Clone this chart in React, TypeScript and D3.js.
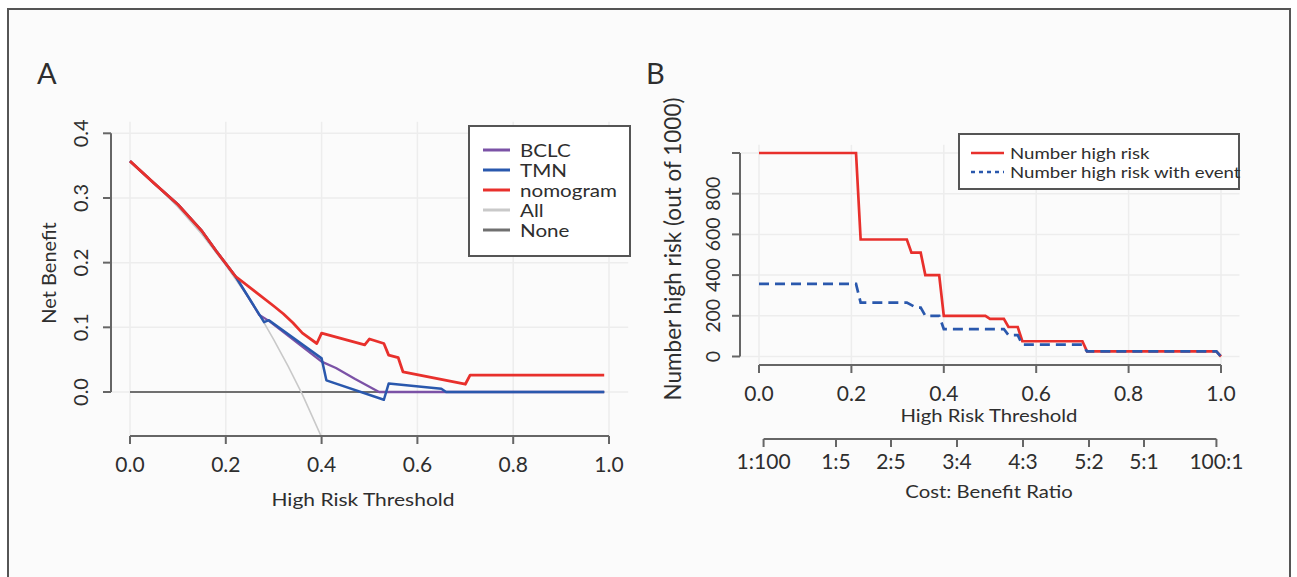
import React, { useEffect, useRef } from 'react';
import * as d3 from 'd3';

// ---- Panel A: decision curves (net benefit) ----
const thresholdTicks = [0, 0.2, 0.4, 0.6, 0.8, 1.0];
const thresholdLabels = ['0.0', '0.2', '0.4', '0.6', '0.8', '1.0'];
const netBenefitTicks = [0, 0.1, 0.2, 0.3, 0.4];
const netBenefitLabels = ['0.0', '0.1', '0.2', '0.3', '0.4'];

const bclcX = [0, 0.05, 0.1, 0.15, 0.18, 0.22, 0.27, 0.29, 0.4, 0.43, 0.47, 0.52, 0.99];
const bclcY = [0.357, 0.323, 0.29, 0.249, 0.218, 0.179, 0.119, 0.11, 0.047, 0.037, 0.02, 0, 0];

const tmnX = [0, 0.05, 0.1, 0.15, 0.18, 0.22, 0.28, 0.29, 0.4, 0.41, 0.53, 0.54, 0.65, 0.66, 0.99];
const tmnY = [0.357, 0.323, 0.29, 0.249, 0.218, 0.179, 0.108, 0.111, 0.052, 0.018, -0.012, 0.013, 0.005, 0, 0];

const nomogramX = [0, 0.05, 0.1, 0.15, 0.18, 0.22, 0.26, 0.3, 0.32, 0.34, 0.36, 0.39, 0.4, 0.49, 0.5, 0.53, 0.54, 0.56, 0.57, 0.7, 0.71, 0.99];
const nomogramY = [0.357, 0.323, 0.29, 0.249, 0.218, 0.179, 0.156, 0.133, 0.121, 0.107, 0.091, 0.075, 0.091, 0.073, 0.082, 0.075, 0.057, 0.053, 0.031, 0.012, 0.026, 0.026];

const allX = [0, 0.05, 0.1, 0.15, 0.2, 0.25, 0.28, 0.3, 0.33, 0.36, 0.4];
const allY = [0.357, 0.323, 0.286, 0.244, 0.196, 0.143, 0.107, 0.081, 0.04, -0.004, -0.07];

const noneX = [0, 0.99];
const noneY = [0, 0];

const legendA = ['BCLC', 'TMN', 'nomogram', 'All', 'None'];

// ---- Panel B: clinical impact ----
const riskTicks = [0, 200, 400, 600, 800, 1000];
const riskLabels = ['0', '200', '400', '600', '800', ''];
const costBenefitLabels = ['1:100', '1:5', '2:5', '3:4', '4:3', '5:2', '5:1', '100:1'];

const highRiskX = [0, 0.21, 0.22, 0.32, 0.33, 0.35, 0.36, 0.39, 0.4, 0.49, 0.5, 0.53, 0.54, 0.56, 0.57, 0.7, 0.71, 0.99, 1.0];
const highRiskY = [1000, 1000, 575, 575, 510, 510, 400, 400, 200, 200, 185, 185, 145, 145, 75, 75, 25, 25, 0];

const withEventX = [0, 0.21, 0.22, 0.32, 0.34, 0.35, 0.36, 0.39, 0.4, 0.53, 0.54, 0.56, 0.57, 0.7, 0.71, 0.99, 1.0];
const withEventY = [357, 357, 265, 265, 240, 240, 200, 200, 135, 135, 105, 105, 58, 58, 25, 25, 0];

const legendB = ['Number high risk', 'Number high risk with event'];

const FONT = 'Lato, "Open Sans", sans-serif';
const TEXT = '#2e2e2e';
const AXIS = '#666';
const GRID = '#ededed';

const RED = '#e8302c';
const BLUE = '#2a58ad';
const PURPLE = '#7b52a6';
const LIGHT = '#c9c9c9';
const DARK = '#707070';

const zip = (xs, ys) => xs.map((x, i) => [x, ys[i]]);

// text helper: horizontal text can be widened (sx), or rotated for y labels
function addText(g, { x, y, text, size, sx = 1, rotate = false, anchor = 'middle' }) {
  return g.append('text')
    .attr('transform', rotate ? `translate(${x},${y}) rotate(-90)` : `translate(${x},${y}) scale(${sx},1)`)
    .attr('text-anchor', anchor)
    .attr('dominant-baseline', 'central')
    .attr('font-family', FONT)
    .attr('font-size', size)
    .attr('fill', TEXT)
    .text(text);
}

// R-style axis: line from first to last tick, ticks pointing outward
function drawAxis(g, { scale, values, labels, side, at, labelOffset, size = 21 }) {
  const a = g.append('g');
  const p0 = scale(values[0]);
  const p1 = scale(values[values.length - 1]);
  const tick = 8;
  if (side === 'bottom') {
    a.append('line').attr('x1', p0).attr('x2', p1).attr('y1', at).attr('y2', at);
    values.forEach((v, i) => {
      a.append('line').attr('x1', scale(v)).attr('x2', scale(v)).attr('y1', at).attr('y2', at + tick);
      addText(a, { x: scale(v), y: at + labelOffset, text: labels[i], size });
    });
  } else {
    a.append('line').attr('y1', p0).attr('y2', p1).attr('x1', at).attr('x2', at);
    values.forEach((v, i) => {
      a.append('line').attr('y1', scale(v)).attr('y2', scale(v)).attr('x1', at).attr('x2', at - tick);
      addText(a, { x: at - labelOffset, y: scale(v), text: labels[i], size, rotate: true });
    });
  }
  a.selectAll('line').attr('stroke', AXIS).attr('stroke-width', 2);
}

function drawGrid(g, x, y, xTicks, yTicks, box) {
  const grid = g.append('g').attr('stroke', GRID).attr('stroke-width', 1.5);
  xTicks.forEach((v) => {
    grid.append('line').attr('x1', x(v)).attr('x2', x(v)).attr('y1', box.top).attr('y2', box.bottom);
  });
  yTicks.forEach((v) => {
    grid.append('line').attr('x1', box.left).attr('x2', box.right).attr('y1', y(v)).attr('y2', y(v));
  });
}

function drawLegend(g, { x, y, w, h, items, firstY, step, lineX, textX, size, sx }) {
  const lg = g.append('g');
  lg.append('rect')
    .attr('x', x)
    .attr('y', y)
    .attr('width', w)
    .attr('height', h)
    .attr('fill', '#fff')
    .attr('stroke', '#555')
    .attr('stroke-width', 2);
  items.forEach((it, i) => {
    const cy = firstY + i * step;
    lg.append('line')
      .attr('x1', lineX[0])
      .attr('x2', lineX[1])
      .attr('y1', cy)
      .attr('y2', cy)
      .attr('stroke', it.color)
      .attr('stroke-width', it.width)
      .attr('stroke-dasharray', it.dash || null);
    addText(lg, { x: textX, y: cy, text: it.label, size, sx, anchor: 'start' });
  });
}

const App = () => {
  const svgRef = useRef(null);
  const width = 1297;
  const height = 577;

  useEffect(() => {
    const svg = d3.select(svgRef.current);
    svg.selectAll('*').remove();

    // outer frame
    svg.append('rect')
      .attr('x', 8)
      .attr('y', 9)
      .attr('width', 1282)
      .attr('height', 600)
      .attr('fill', '#fbfbfb')
      .attr('stroke', '#555')
      .attr('stroke-width', 2);

    // ================= Panel A =================
    const xA = d3.scaleLinear().domain([0, 1]).range([130, 609]);
    const yA = d3.scaleLinear().domain([0, 0.4]).range([392, 133.3]);
    const boxA = { left: xA(-0.04), right: xA(1.04), top: yA(0.418), bottom: yA(-0.068) };
    const gA = svg.append('g');

    gA.append('clipPath')
      .attr('id', 'clipA')
      .append('rect')
      .attr('x', boxA.left)
      .attr('y', boxA.top)
      .attr('width', boxA.right - boxA.left)
      .attr('height', boxA.bottom - boxA.top);

    drawGrid(gA, xA, yA, thresholdTicks, netBenefitTicks, boxA);

    const lineA = d3.line().x((d) => xA(d[0])).y((d) => yA(d[1]));
    const seriesA = [
      { label: 'None', data: zip(noneX, noneY), color: DARK, width: 2 },
      { label: 'All', data: zip(allX, allY), color: LIGHT, width: 1.6 },
      { label: 'BCLC', data: zip(bclcX, bclcY), color: PURPLE, width: 2.3 },
      { label: 'TMN', data: zip(tmnX, tmnY), color: BLUE, width: 2.5 },
      { label: 'nomogram', data: zip(nomogramX, nomogramY), color: RED, width: 2.8 },
    ];
    const plotA = gA.append('g').attr('clip-path', 'url(#clipA)');
    seriesA.forEach((s) => {
      plotA.append('path')
        .attr('d', lineA(s.data))
        .attr('fill', 'none')
        .attr('stroke', s.color)
        .attr('stroke-width', s.width)
        .attr('stroke-linejoin', 'round');
    });

    drawAxis(gA, { scale: xA, values: thresholdTicks, labels: thresholdLabels, side: 'bottom', at: 436, labelOffset: 27 });
    drawAxis(gA, { scale: yA, values: netBenefitTicks, labels: netBenefitLabels, side: 'left', at: 111, labelOffset: 31, size: 20 });

    addText(gA, { x: 363, y: 499, text: 'High Risk Threshold', size: 17.5, sx: 1.2 });
    addText(gA, { x: 48, y: 273, text: 'Net Benefit', size: 20, rotate: true });
    addText(gA, { x: 37, y: 72, text: 'A', size: 29, anchor: 'start' });

    const legendColorsA = { BCLC: PURPLE, TMN: BLUE, nomogram: RED, All: LIGHT, None: DARK };
    drawLegend(gA, {
      x: 469,
      y: 126,
      w: 161,
      h: 130,
      items: legendA.map((l) => ({ label: l, color: legendColorsA[l], width: 3 })),
      firstY: 150,
      step: 20,
      lineX: [483, 510],
      textX: 520,
      size: 17.6,
      sx: 1.17,
    });

    // ================= Panel B =================
    const xB = d3.scaleLinear().domain([0, 1]).range([759, 1221]);
    const yB = d3.scaleLinear().domain([0, 1000]).range([356.5, 153]);
    const boxB = { left: xB(-0.04), right: xB(1.04), top: yB(1040), bottom: yB(-40) };
    const gB = svg.append('g');

    drawGrid(gB, xB, yB, thresholdTicks, riskTicks, boxB);

    const lineB = d3.line().x((d) => xB(d[0])).y((d) => yB(d[1]));
    gB.append('path')
      .attr('d', lineB(zip(highRiskX, highRiskY)))
      .attr('fill', 'none')
      .attr('stroke', RED)
      .attr('stroke-width', 2.7);
    gB.append('path')
      .attr('d', lineB(zip(withEventX, withEventY)))
      .attr('fill', 'none')
      .attr('stroke', BLUE)
      .attr('stroke-width', 2.7)
      .attr('stroke-dasharray', '10,6');

    drawAxis(gB, { scale: xB, values: thresholdTicks, labels: thresholdLabels, side: 'bottom', at: 365, labelOffset: 27 });
    drawAxis(gB, { scale: yB, values: riskTicks, labels: riskLabels, side: 'left', at: 740, labelOffset: 28, size: 19.5 });

    // cost:benefit axis -- ticks at threshold a/(a+b)
    const costTicks = costBenefitLabels.map((s) => {
      const [a, b] = s.split(':').map(Number);
      return a / (a + b);
    });
    drawAxis(gB, { scale: xB, values: costTicks, labels: costBenefitLabels, side: 'bottom', at: 439, labelOffset: 21 });

    addText(gB, { x: 989, y: 415, text: 'High Risk Threshold', size: 17.5, sx: 1.16 });
    addText(gB, { x: 989, y: 491, text: 'Cost: Benefit Ratio', size: 17.5, sx: 1.16 });
    addText(gB, { x: 672, y: 249, text: 'Number high risk (out of 1000)', size: 22.5, rotate: true });
    addText(gB, { x: 646, y: 72, text: 'B', size: 29, anchor: 'start' });

    drawLegend(gB, {
      x: 959,
      y: 134,
      w: 280,
      h: 55,
      items: [
        { label: legendB[0], color: RED, width: 2.6 },
        { label: legendB[1], color: BLUE, width: 2.6, dash: '4,4' },
      ],
      firstY: 153,
      step: 19,
      lineX: [971, 1004],
      textX: 1010,
      size: 16.2,
      sx: 1.15,
    });
  }, []);

  return (
    <svg
      ref={svgRef}
      width={width}
      height={height}
      style={{ position: 'absolute', left: 0, top: 0, background: '#fff' }}
    />
  );
};

export default App;
